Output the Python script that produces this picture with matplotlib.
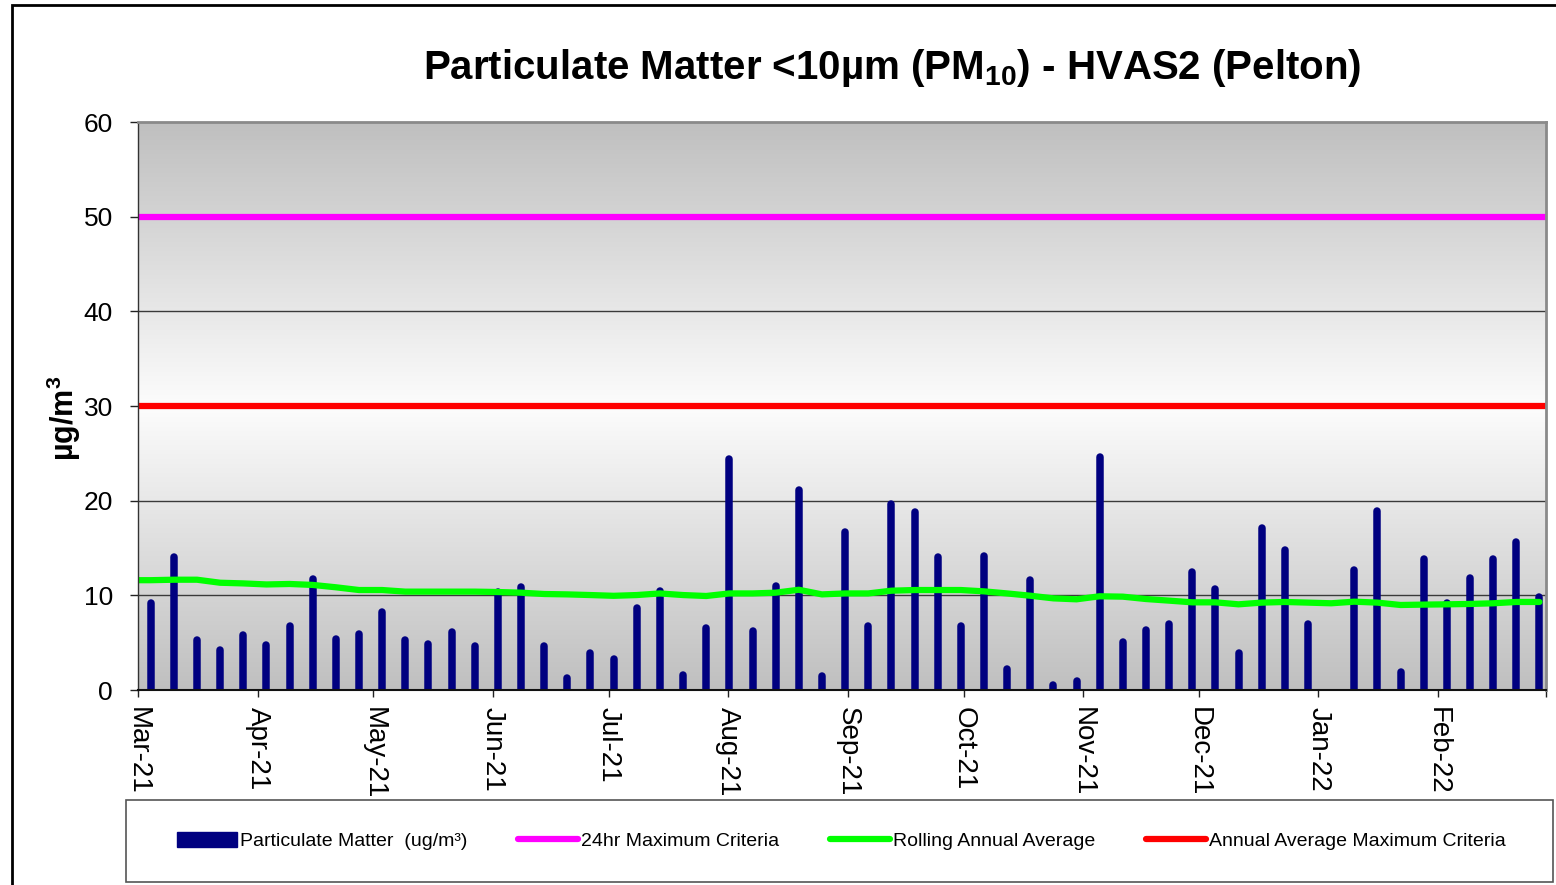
import numpy as np
import pandas as pd
import matplotlib
matplotlib.use('Agg')
import matplotlib.pyplot as plt
import matplotlib.dates as mdates
from matplotlib.lines import Line2D
from matplotlib.patches import Rectangle, Patch

# ---------------- data ----------------
title_text = r'Particulate Matter <10µm (PM$_{\mathbf{10}}$) - HVAS2 (Pelton)'
y_label = r'µg/m$^{\mathbf{3}}$'
sample_dates = pd.date_range('2021-03-04', periods=61, freq='6D')
pm10 = [9.2, 14.0, 5.3, 4.2, 5.8, 4.8, 6.8, 11.7, 5.4, 5.9,
        8.2, 5.3, 4.9, 6.1, 4.6, 10.4, 10.9, 4.7, 1.3, 3.9,
        3.3, 8.7, 10.5, 1.6, 6.5, 24.4, 6.2, 11.0, 21.1, 1.5,
        16.7, 6.8, 19.7, 18.8, 14.0, 6.8, 14.2, 2.2, 11.6, 0.5,
        0.9, 24.6, 5.1, 6.3, 7.0, 12.5, 10.7, 3.9, 17.1, 14.8,
        7.0, np.nan, 12.7, 18.9, 1.9, 13.8, 9.2, 11.8, 13.8, 15.6,
        9.8]
rolling_dates = pd.date_range('2021-02-26', periods=62, freq='6D')
rolling_avg = [11.6, 11.6, 11.65, 11.65, 11.33, 11.26, 11.15, 11.2, 11.1, 10.85,
               10.56, 10.56, 10.39, 10.39, 10.39, 10.39, 10.35, 10.28, 10.14, 10.1,
               10.03, 9.95, 10.03, 10.2, 10.03, 9.93, 10.2, 10.2, 10.28, 10.59,
               10.1, 10.2, 10.2, 10.49, 10.56, 10.56, 10.56, 10.42, 10.2, 9.96,
               9.68, 9.58, 9.9, 9.86, 9.61, 9.44, 9.26, 9.26, 9.05, 9.23,
               9.3, 9.23, 9.16, 9.33, 9.23, 8.98, 9.02, 9.05, 9.09, 9.16,
               9.3, 9.3]
criteria_24hr = 50
criteria_annual = 30
x_start, x_end = pd.Timestamp('2021-03-01'), pd.Timestamp('2022-03-01')
y_ticks = [0, 10, 20, 30, 40, 50, 60]
legend_labels = ['Particulate Matter  (ug/m³)', '24hr Maximum Criteria',
                 'Rolling Annual Average', 'Annual Average Maximum Criteria']

# ---------------- style ----------------
plt.rcParams['font.family'] = ['Liberation Sans', 'DejaVu Sans']
plt.rcParams['mathtext.fontset'] = 'custom'
plt.rcParams['mathtext.rm'] = 'Liberation Sans'
plt.rcParams['mathtext.bf'] = 'Liberation Sans:bold'
plt.rcParams['mathtext.it'] = 'Liberation Sans:italic'

W, H = 1556, 885
fig = plt.figure(figsize=(W / 100, H / 100), dpi=100)
fig.patch.set_facecolor('white')

ax = fig.add_axes([138 / W, 1 - 690 / H, (1546 - 138) / W, (690 - 122) / H])

x0, x1 = mdates.date2num(x_start), mdates.date2num(x_end)

# gradient background gray -> white -> gray
n = 256
t = np.linspace(0, 1, n)
v = np.abs(t - 0.5) * 2
gray = np.array([0.75, 0.75, 0.75])
white = np.array([0.99, 0.99, 0.99])
cols = white[None, :] * (1 - v[:, None]) + gray[None, :] * v[:, None]
img = np.repeat(cols[:, None, :], 2, axis=1)
ax.imshow(img, extent=[x0, x1, 0, 60], aspect='auto', origin='lower', zorder=0,
          interpolation='bilinear')

# gridlines
for yv in y_ticks[1:-1]:
    ax.axhline(yv, color='#3a3a3a', lw=1.0, zorder=1)

# criteria lines
ax.plot([x_start, x_end], [criteria_24hr, criteria_24hr], color='#FF00FF', lw=4.5,
        solid_capstyle='round', zorder=3)
ax.plot([x_start, x_end], [criteria_annual, criteria_annual], color='#FF0000', lw=4.5,
        solid_capstyle='round', zorder=3)

# bars
pm_arr = np.array(pm10, dtype=float)
mask = ~np.isnan(pm_arr)
bar_x = mdates.date2num(sample_dates[mask]) + 0.3
ax.vlines(bar_x, 0, pm_arr[mask], colors='#000080', lw=5.4,
          capstyle='round', zorder=4)

# rolling average
ax.plot(mdates.date2num(rolling_dates) + 0.3, rolling_avg, color='#00FF00', lw=4.5,
        solid_joinstyle='round', solid_capstyle='round', zorder=5)

ax.set_xlim(x0, x1)
ax.set_ylim(0, 60)
ax.set_yticks(y_ticks)
ax.xaxis.set_major_locator(mdates.MonthLocator())
month_fmt = mdates.DateFormatter('%b-%y')
ax.xaxis.set_major_formatter(plt.FuncFormatter(
    lambda val, pos: '' if val >= x1 - 0.5 else month_fmt(val, pos)))
ax.tick_params(axis='y', labelsize=19, length=6, width=1, pad=12, color='#222222')
ax.tick_params(axis='x', labelsize=20, length=5, width=1, pad=7, color='#222222')
for lab in ax.get_xticklabels():
    lab.set_rotation(270)
    lab.set_ha('center')
    lab.set_va('top')

for s in ['top', 'right']:
    ax.spines[s].set_color('#8a8a8a')
    ax.spines[s].set_linewidth(2)
ax.spines['left'].set_color('#333333')
ax.spines['left'].set_linewidth(1)
ax.spines['bottom'].set_color('#111111')
ax.spines['bottom'].set_linewidth(1.5)
for s in ax.spines.values():
    s.set_zorder(6)

fig.text(64 / W, 1 - 418 / H, y_label, rotation=90, fontsize=22, fontweight='bold',
         ha='center', va='center')

# title
fig.text(892 / W, 1 - 68 / H, title_text, fontsize=29, fontweight='bold',
         ha='center', va='center')

# outer border
fig.add_artist(Rectangle((12 / W, -0.05), 1.2, 1 - 5 / H + 0.05, transform=fig.transFigure,
                         fill=False, edgecolor='black', lw=2))

# legend box
fig.add_artist(Rectangle((126 / W, 1 - 882 / H), (1553 - 126) / W, (882 - 800) / H,
                         transform=fig.transFigure, fill=True, facecolor='white',
                         edgecolor='#555555', lw=1.2))
handles = [Patch(facecolor='#000080', edgecolor='#000080'),
           Line2D([], [], color='#FF00FF', lw=4.5, solid_capstyle='round'),
           Line2D([], [], color='#00FF00', lw=4.5, solid_capstyle='round'),
           Line2D([], [], color='#FF0000', lw=4.5, solid_capstyle='round')]
leg = fig.legend(handles, legend_labels, loc='center', bbox_to_anchor=(841 / W, 1 - 841 / H),
                 ncol=4, frameon=False, fontsize=14, handlelength=3.1, handleheight=0.85,
                 handletextpad=0.15, columnspacing=2.6)

fig.savefig('out.png', dpi=100)
